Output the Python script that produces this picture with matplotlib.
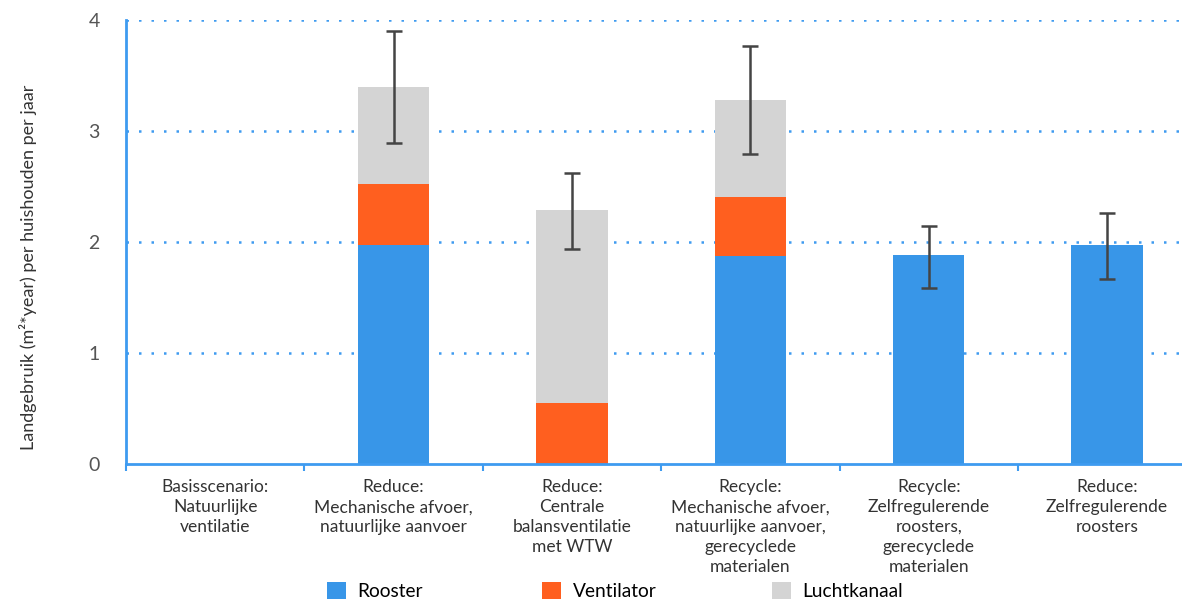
import numpy as np
import matplotlib
matplotlib.use('Agg')
import matplotlib.pyplot as plt
from matplotlib.patches import Patch

# data
categories = [
    'Basisscenario:\nNatuurlijke\nventilatie',
    'Reduce:\nMechanische afvoer,\nnatuurlijke aanvoer',
    'Reduce:\nCentrale\nbalansventilatie\nmet WTW',
    'Recycle:\nMechanische afvoer,\nnatuurlijke aanvoer,\ngerecyclede\nmaterialen',
    'Recycle:\nZelfregulerende\nroosters,\ngerecyclede\nmaterialen',
    'Reduce:\nZelfregulerende\nroosters',
]
rooster = [0.0, 1.97, 0.0, 1.87, 1.88, 1.97]
ventilator = [0.0, 0.55, 0.55, 0.54, 0.0, 0.0]
luchtkanaal = [0.0, 0.88, 1.74, 0.87, 0.0, 0.0]
err_low = [np.nan, 2.89, 1.94, 2.79, 1.59, 1.67]
err_high = [np.nan, 3.90, 2.62, 3.77, 2.14, 2.26]

series_names = ['Rooster', 'Ventilator', 'Luchtkanaal']
colors = ['#3896E8', '#FF5F1F', '#D4D4D4']
axis_blue = '#3E9BF0'

plt.rcParams['font.family'] = ['Lato', 'DejaVu Sans']

fig = plt.figure(figsize=(11.82, 6.03), dpi=100)
ax = fig.add_axes([0.1066, 0.2305, 0.8934, 0.7363])

x = np.arange(len(categories))
w = 0.4
r = np.array(rooster)
v = np.array(ventilator)
l = np.array(luchtkanaal)
ax.bar(x, r, w, color=colors[0], zorder=2)
ax.bar(x, v, w, bottom=r, color=colors[1], zorder=2)
ax.bar(x, l, w, bottom=r + v, color=colors[2], zorder=2)

total = r + v + l
lo = np.array(err_low)
hi = np.array(err_high)
mask = ~np.isnan(lo)
ax.errorbar(x[mask], total[mask],
            yerr=[total[mask] - lo[mask], hi[mask] - total[mask]],
            fmt='none', ecolor='#444444', elinewidth=1.8, capsize=6,
            capthick=1.8, zorder=3)

ax.set_ylim(0, 4)
ax.set_xlim(-0.5, 5.42)
ax.set_yticks([0, 1, 2, 3, 4])
ax.tick_params(axis='y', length=0, pad=19, labelsize=14, labelcolor='#555555')
for yv in [1, 2, 3, 4]:
    ax.axhline(yv, color=axis_blue, linestyle=(0, (1, 4)), linewidth=1.8,
               zorder=1)

ax.set_xticks(x)
ax.set_xticklabels(categories, fontsize=12.5, color='#333333',
                   linespacing=1.3, va='top')
ax.tick_params(axis='x', length=0, pad=11)
ax.set_xticks(np.arange(len(categories)) - 0.5, minor=True)
ax.tick_params(axis='x', which='minor', length=5, width=1.5, color=axis_blue)

for side in ['top', 'right']:
    ax.spines[side].set_visible(False)
for side in ['left', 'bottom']:
    ax.spines[side].set_color(axis_blue)
    ax.spines[side].set_linewidth(2)

fig.text(0.024, 0.557, 'Landgebruik (m²*year) per huishouden per jaar',
         rotation=90, ha='center', va='center', fontsize=13, color='#333333')

# legend items placed one by one, as in the reference
legend_x = [327 / 1182, 542 / 1182, 772 / 1182]
for name, c, lx in zip(series_names, colors, legend_x):
    fig.legend([Patch(facecolor=c, edgecolor='none')], [name],
               loc='center left', bbox_to_anchor=(lx, 0.02),
               frameon=False, fontsize=13.8, handlelength=1.0,
               handleheight=1.0, handletextpad=0.6, borderpad=0,
               borderaxespad=0)

fig.savefig('out.png', dpi=100)
